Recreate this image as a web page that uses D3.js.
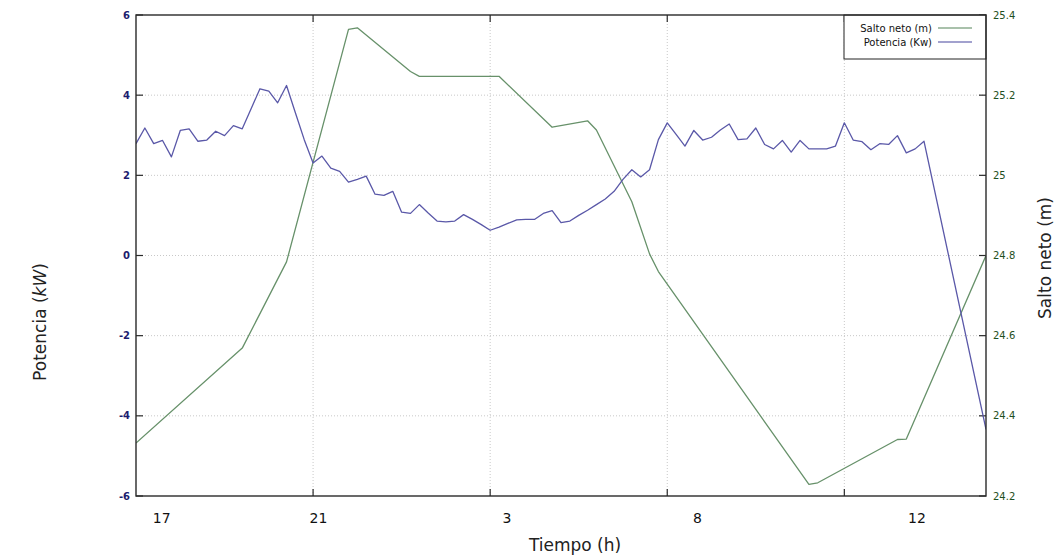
<!DOCTYPE html>
<html>

<head>
	<meta charset="utf-8">
	<title>Potencia y salto neto</title>
	<style>
		body {
			margin: 0;
			background: #fff;
			font-family: "DejaVu Sans", Verdana, sans-serif;
		}
		.grid line {
			stroke: #c8c8c8;
			stroke-dasharray: 1, 2;
		}
		.frame {
			fill: none;
			stroke: #2a2a2a;
			stroke-width: 1.4;
		}
		.tick-mark {
			stroke: #2a2a2a;
			stroke-width: 1.2;
		}
		.line {
			fill: none;
			stroke-width: 1.3;
			stroke-linejoin: round;
		}
		.label {
			fill: #222;
			font-size: 17px;
		}
	</style>
</head>

<body>

	<div id="graph"></div>

	<script src="https://cdnjs.cloudflare.com/ajax/libs/d3/7.8.5/d3.min.js"></script>

	<script type="text/javascript">

		// Potencia (kW), sample index along the day
		var powerIdx = [];
		for (var k = 0; k <= 89; k++) powerIdx.push(k);
		powerIdx.push(96);
		var powerVal = [
			2.79, 3.18, 2.79, 2.87, 2.46, 3.12, 3.16, 2.85, 2.88, 3.10,
			2.99, 3.24, 3.16, 3.66, 4.16, 4.10, 3.81, 4.24, 3.56, 2.89,
			2.31, 2.48, 2.18, 2.10, 1.83, 1.90, 1.98, 1.53, 1.50, 1.60,
			1.08, 1.05, 1.27, 1.06, 0.86, 0.84, 0.86, 1.02, 0.90, 0.77,
			0.63, 0.71, 0.80, 0.89, 0.90, 0.90, 1.05, 1.12, 0.82, 0.86,
			1.00, 1.13, 1.27, 1.41, 1.60, 1.90, 2.14, 1.96, 2.14, 2.89,
			3.31, 3.02, 2.73, 3.12, 2.88, 2.95, 3.13, 3.28, 2.89, 2.91,
			3.18, 2.77, 2.66, 2.87, 2.58, 2.87, 2.66, 2.66, 2.66, 2.73,
			3.31, 2.88, 2.84, 2.64, 2.79, 2.77, 2.99, 2.56, 2.66, 2.85,
			-4.34
		];

		// Salto neto (m)
		var headIdx = [0, 12, 17, 24, 25, 31, 32, 41, 47, 51, 52, 56, 58, 59, 76, 77, 86, 87, 96];
		var headVal = [24.332, 24.569, 24.784, 25.364, 25.368, 25.259, 25.247, 25.247, 25.120, 25.136,
			25.113, 24.934, 24.804, 24.760, 24.229, 24.233, 24.341, 24.342, 24.800];

		var gridX = [0, 20, 40, 60, 80];
		var timePos = [2.9, 20.6, 41.9, 63.4, 88.2];
		var timeLabels = ["17", "21", "3", "8", "12"];
		var leftTicks = [-6, -4, -2, 0, 2, 4, 6];
		var rightTicks = [24.2, 24.4, 24.6, 24.8, 25, 25.2, 25.4];

		var blue = "#5a58a8";
		var green = "#67916a";

		var W = 1060, H = 559;
		var plot = { left: 136, right: 986, top: 15, bottom: 496 };

		var svg = d3.select("#graph").append("svg")
			.attr("width", W)
			.attr("height", H);

		var xScale = d3.scaleLinear().domain([0, 96]).range([plot.left, plot.right]);
		var yLeft = d3.scaleLinear().domain([-6, 6]).range([plot.bottom, plot.top]);
		var yRight = d3.scaleLinear().domain([24.2, 25.4]).range([plot.bottom, plot.top]);

		// grid
		var grid = svg.append("g").attr("class", "grid");
		grid.selectAll(".gy")
			.data(leftTicks.slice(1, -1))
			.enter().append("line")
			.attr("x1", plot.left).attr("x2", plot.right)
			.attr("y1", function(d) { return yLeft(d); })
			.attr("y2", function(d) { return yLeft(d); });
		grid.selectAll(".gx")
			.data(gridX.slice(1))
			.enter().append("line")
			.attr("y1", plot.top).attr("y2", plot.bottom)
			.attr("x1", function(d) { return xScale(d); })
			.attr("x2", function(d) { return xScale(d); });

		// tick marks, gnuplot style (inward, mirrored)
		var tl = 7;
		var ticks = svg.append("g");
		gridX.slice(1).forEach(function(d) {
			ticks.append("line").attr("class", "tick-mark")
				.attr("x1", xScale(d)).attr("x2", xScale(d))
				.attr("y1", plot.bottom).attr("y2", plot.bottom - tl);
			ticks.append("line").attr("class", "tick-mark")
				.attr("x1", xScale(d)).attr("x2", xScale(d))
				.attr("y1", plot.top).attr("y2", plot.top + tl);
		});
		leftTicks.forEach(function(d) {
			ticks.append("line").attr("class", "tick-mark")
				.attr("x1", plot.left).attr("x2", plot.left + tl)
				.attr("y1", yLeft(d)).attr("y2", yLeft(d));
		});
		rightTicks.forEach(function(d) {
			ticks.append("line").attr("class", "tick-mark")
				.attr("x1", plot.right).attr("x2", plot.right - tl)
				.attr("y1", yRight(d)).attr("y2", yRight(d));
		});

		// tick labels
		svg.append("g").selectAll("text")
			.data(leftTicks)
			.enter().append("text")
			.attr("x", plot.left - 6)
			.attr("y", function(d) { return yLeft(d); })
			.attr("dy", "0.35em")
			.attr("text-anchor", "end")
			.attr("fill", "#1d1d6e")
			.style("font-size", "10px")
			.style("font-weight", "bold")
			.text(function(d) { return d; });

		svg.append("g").selectAll("text")
			.data(rightTicks)
			.enter().append("text")
			.attr("x", plot.right + 7)
			.attr("y", function(d) { return yRight(d); })
			.attr("dy", "0.35em")
			.attr("fill", "#1f4f22")
			.style("font-size", "10px")
			.text(function(d) { return d3.format("")(+d.toFixed(1)); });

		svg.append("g").selectAll("text")
			.data(timePos)
			.enter().append("text")
			.attr("x", function(d) { return xScale(d); })
			.attr("y", 523)
			.attr("text-anchor", "middle")
			.attr("fill", "#111")
			.style("font-size", "14px")
			.text(function(d, i) { return timeLabels[i]; });

		// clip for the series
		svg.append("clipPath").attr("id", "clip")
			.append("rect")
			.attr("x", plot.left).attr("y", plot.top)
			.attr("width", plot.right - plot.left)
			.attr("height", plot.bottom - plot.top);

		var powerLine = d3.line()
			.x(function(d, i) { return xScale(powerIdx[i]); })
			.y(function(d) { return yLeft(d); });
		var headLine = d3.line()
			.x(function(d, i) { return xScale(headIdx[i]); })
			.y(function(d) { return yRight(d); });

		var series = svg.append("g").attr("clip-path", "url(#clip)");
		series.append("path")
			.attr("class", "line")
			.attr("stroke", green)
			.attr("d", headLine(headVal));
		series.append("path")
			.attr("class", "line")
			.attr("stroke", blue)
			.attr("d", powerLine(powerVal));

		// legend
		var legend = svg.append("g");
		legend.append("rect")
			.attr("x", 844).attr("y", plot.top)
			.attr("width", plot.right - 844).attr("height", 44)
			.attr("fill", "#fff")
			.attr("stroke", "#222")
			.attr("stroke-width", 1);
		var legendItems = [
			{ name: "Salto neto (m)", color: green },
			{ name: "Potencia (Kw)", color: blue }
		];
		legendItems.forEach(function(d, i) {
			var y = 28 + i * 14;
			legend.append("text")
				.attr("x", 932).attr("y", y)
				.attr("dy", "0.35em")
				.attr("text-anchor", "end")
				.attr("fill", "#111")
				.style("font-size", "10px")
				.text(d.name);
			legend.append("line")
				.attr("x1", 938).attr("x2", 972)
				.attr("y1", y).attr("y2", y)
				.attr("stroke", d.color)
				.attr("stroke-opacity", 0.75)
				.attr("stroke-width", 1.3);
		});

		// frame
		svg.append("rect")
			.attr("class", "frame")
			.attr("x", plot.left).attr("y", plot.top)
			.attr("width", plot.right - plot.left)
			.attr("height", plot.bottom - plot.top);

		// axis titles
		var yTitle = svg.append("text")
			.attr("class", "label")
			.attr("text-anchor", "middle")
			.attr("transform", "translate(46,322) rotate(-90)");
		yTitle.append("tspan").text("Potencia (");
		yTitle.append("tspan").style("font-style", "italic").text("kW");
		yTitle.append("tspan").text(")");

		svg.append("text")
			.attr("class", "label")
			.attr("text-anchor", "middle")
			.attr("transform", "translate(1051,258) rotate(-90)")
			.text("Salto neto (m)");

		svg.append("text")
			.attr("class", "label")
			.attr("text-anchor", "middle")
			.attr("x", 575)
			.attr("y", 551)
			.text("Tiempo (h)");
	</script>

</body>

</html>
